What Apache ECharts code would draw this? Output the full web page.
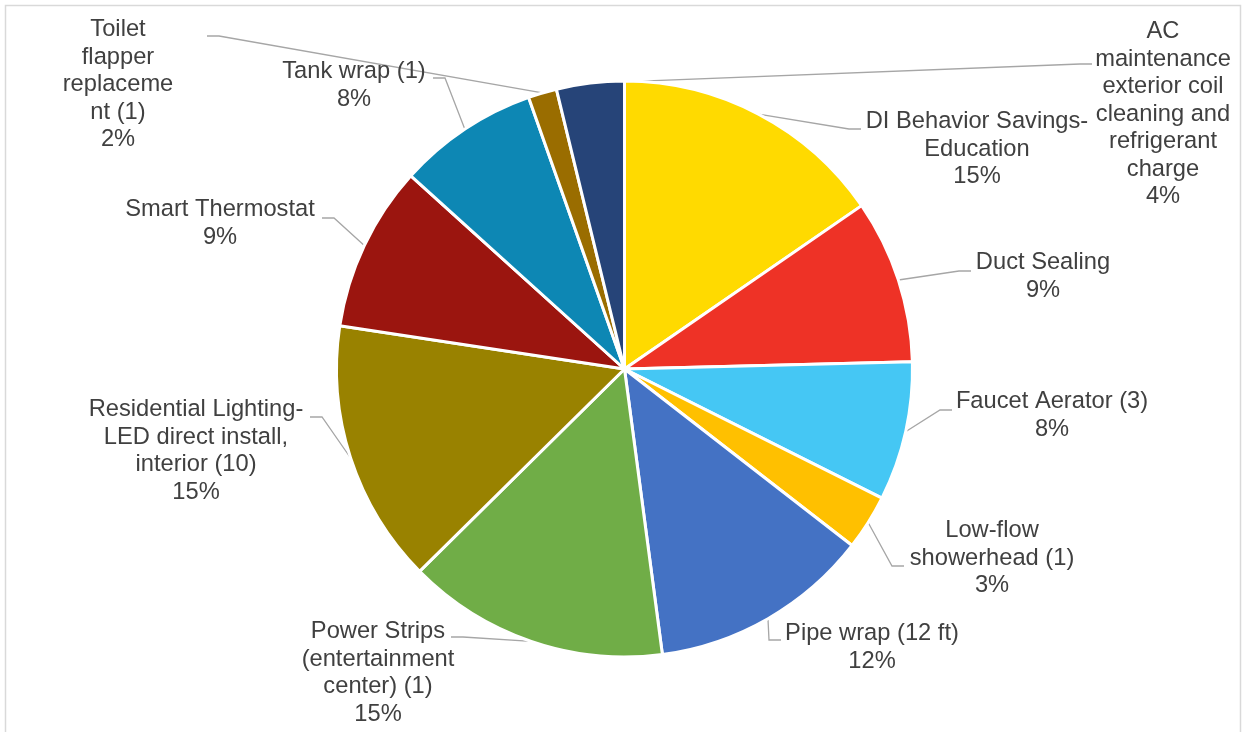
<!DOCTYPE html>
<html>
<head>
<meta charset="utf-8">
<script src="https://cdn.jsdelivr.net/npm/echarts@6/dist/echarts.min.js"></script>
<style>
  html, body { margin: 0; padding: 0; background: #fff; }
  #chart { width: 1243px; height: 732px; }
</style>
</head>
<body>
<div id="chart"></div>
<script>
// slices, clockwise from 12 o'clock
const categories = [
  'DI Behavior Savings-Education',
  'Duct Sealing',
  'Faucet Aerator (3)',
  'Low-flow showerhead (1)',
  'Pipe wrap (12 ft)',
  'Power Strips (entertainment center) (1)',
  'Residential Lighting-LED direct install, interior (10)',
  'Smart Thermostat',
  'Tank wrap (1)',
  'Toilet flapper replacement (1)',
  'AC maintenance exterior coil cleaning and refrigerant charge'
];
const values = [15.4, 9.2, 7.8, 3.1, 12.4, 14.7, 14.8, 9.3, 7.9, 1.6, 3.8];

// label text as wrapped in the original
const labelText = [
  'DI Behavior Savings-\nEducation',
  'Duct Sealing',
  'Faucet Aerator (3)',
  'Low-flow\nshowerhead (1)',
  'Pipe wrap (12 ft)',
  'Power Strips\n(entertainment\ncenter) (1)',
  'Residential Lighting-\nLED direct install,\ninterior (10)',
  'Smart Thermostat',
  'Tank wrap (1)',
  'Toilet\nflapper\nreplaceme\nnt (1)',
  'AC\nmaintenance\nexterior coil\ncleaning and\nrefrigerant\ncharge'
];

const colors = [
  '#FFDA00', '#EE3226', '#45C7F4', '#FFC000', '#4472C4', '#70AD47',
  '#998200', '#9B150F', '#0D87B4', '#9A6D00', '#264478'
];

// label placement: [centre x, top y, leader end x, leader end y]
const labelPos = [
  [977, 108, 861, 129],
  [1043, 249, 971, 271],
  [1052, 388, 952, 410],
  [992, 517, 904, 566],
  [872, 620, 781, 640],
  [378, 618, 451, 637],
  [196, 396, 310, 417],
  [220, 196, 322, 218],
  [354, 58, 433, 78],
  [118, 16, 207, 36],
  [1163, 18, 1092, 64]
];

const chart = echarts.init(document.getElementById('chart'));

const option = {
  animation: false,
  graphic: [{
    type: 'rect',
    z: -10,
    shape: { x: 5.5, y: 5.5, width: 1235, height: 800 },
    style: { fill: 'none', stroke: '#d9d9d9', lineWidth: 1.5 }
  }],
  series: [{
    type: 'pie',
    center: [624.5, 369],
    radius: 288,
    startAngle: 90,
    clockwise: true,
    percentPrecision: 0,
    avoidLabelOverlap: false,
    data: categories.map((name, i) => ({
      name: name,
      value: values[i],
      itemStyle: { color: colors[i] }
    })),
    itemStyle: { borderColor: '#fff', borderWidth: 3 },
    label: {
      show: true,
      position: 'outside',
      formatter: p => labelText[p.dataIndex] + '\n' + p.percent + '%',
      fontFamily: '"Liberation Sans", Arial, sans-serif',
      fontSize: 23.7,
      lineHeight: 27.5,
      color: '#404040',
      align: 'center'
    },
    labelLine: {
      show: true,
      length: 10,
      length2: 10,
      lineStyle: { color: '#a6a6a6', width: 1.3 }
    },
    labelLayout: function (params) {
      const pos = labelPos[params.dataIndex];
      const anchor = params.labelLinePoints[0];
      const bendX = pos[2] < pos[0] ? pos[2] - 12 : pos[2] + 12;
      return {
        x: pos[0],
        y: pos[1],
        align: 'center',
        verticalAlign: 'top',
        labelLinePoints: [anchor, [bendX, pos[3]], [pos[2], pos[3]]]
      };
    },
    emphasis: { disabled: true }
  }]
};

chart.setOption(option);
</script>
</body>
</html>
